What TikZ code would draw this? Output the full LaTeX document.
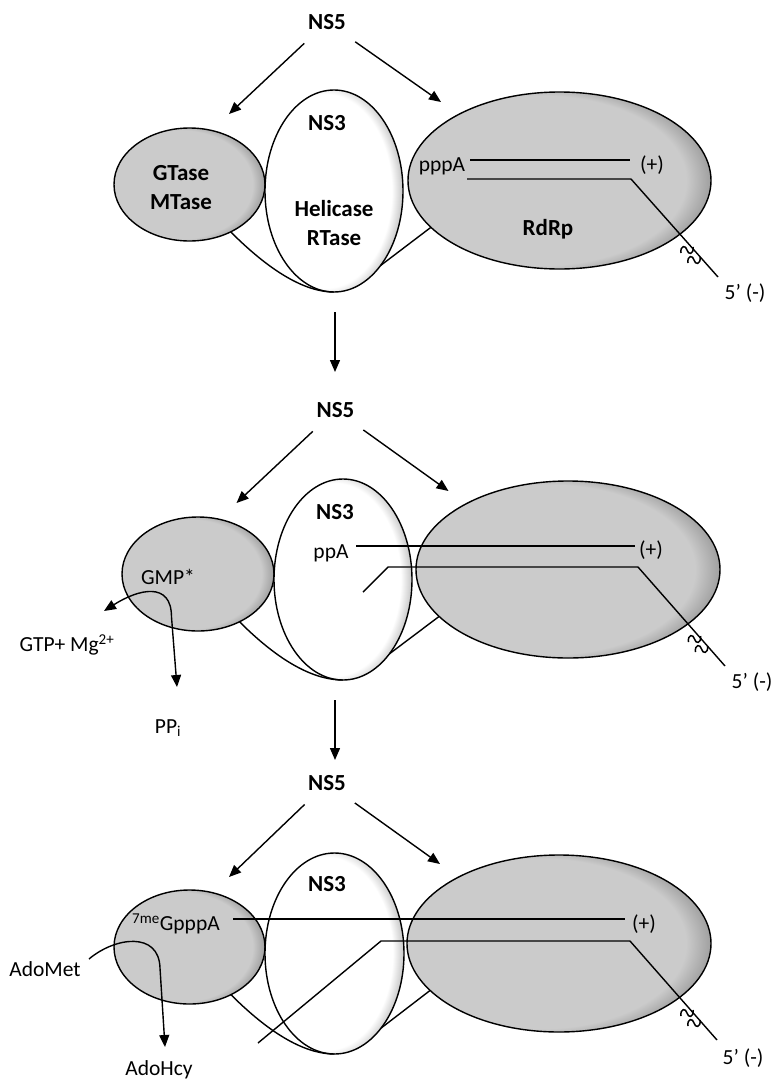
\documentclass[tikz,border=0pt]{standalone}
\usepackage{fontspec}
\setmainfont{Carlito}
\usetikzlibrary{arrows.meta,shapes.geometric}
\definecolor{capfill}{HTML}{CBCBCB}
\definecolor{caprim}{HTML}{7E7E7E}
\definecolor{nsfill}{HTML}{FFFFFF}
\definecolor{nsrim}{HTML}{9A9A9A}
\pgfdeclareradialshading{graycap}{\pgfpoint{-6bp}{0bp}}{color(0bp)=(capfill); color(24bp)=(capfill); color(30.5bp)=(caprim); color(50bp)=(caprim)}
\pgfdeclareradialshading{whitecap}{\pgfpoint{-6bp}{0bp}}{color(0bp)=(nsfill); color(24bp)=(nsfill); color(30.5bp)=(nsrim); color(50bp)=(nsrim)}
\tikzset{wig/.pic={\draw[line width=1.5pt] (-6,3) .. controls (-7,-5) and (-1,-5) .. (0,0) .. controls (1,5) and (7,5) .. (6,-3);}}
\begin{document}
\begin{tikzpicture}[x=1pt,y=-1pt,line width=1.4pt,
    arr/.style={-{Triangle[length=12pt,width=10pt]}},
    arrtwo/.style={{Triangle[length=12pt,width=10pt]}-{Triangle[length=12pt,width=10pt]}},
    grayblob/.style={ellipse,draw,inner sep=0pt,outer sep=0pt,shade,shading=graycap},
    whiteblob/.style={ellipse,draw,inner sep=0pt,outer sep=0pt,shade,shading=whitecap},
    lbl/.style={font=\fontsize{21.5}{25}\selectfont,inner sep=0pt},
    bld/.style={font=\fontsize{23}{29}\selectfont\bfseries,inner sep=0pt,align=center}]
        \useasboundingbox (0,0) rectangle (777,1082);
        % top: NS5 loaded on the template
        \begin{scope}
        \node[grayblob,minimum width=151pt,minimum height=113pt] (gtA) at (189.5,184.5) {};
        \node[whiteblob,minimum width=138pt,minimum height=202pt] (hA) at (334,191) {};
        \node[grayblob,minimum width=303pt,minimum height=177pt] (rdA) at (559.5,180.5) {};
        \draw (gtA.-49) .. controls +(45,45) and +(-25,0) .. (hA.south);
        \draw (rdA.200) -- (hA.-58);
        \node[bld] (ns5A) at (327,22) {NS5};
        \coordinate (tipAl) at (229,114);
        \coordinate (tipAr) at (441,102);
        \draw[arr,shorten <=19pt] (ns5A) -- (tipAl);
        \draw[arr,shorten <=20pt] (ns5A) -- (tipAr);
        \node[bld] (ns3A) at (327,123) {NS3};
        \node[bld] (gtxA) at (181,188) {GTase\\MTase};
        \node[bld] (helA) at (334,223.5) {Helicase\\RTase};
        \node[bld] (rdtA) at (548,229) {RdRp};
        \node[lbl] (ppaA) at (442,166) {pppA};
        \node[lbl] (plusA) at (652,165) {(+)};
        \node[lbl] (endA) at (745,293) {5’ (-)};
        \coordinate (sA1) at (470,160);
        \coordinate (sA2) at (630,160);
        \coordinate (sA3) at (467,179);
        \coordinate (sA4) at (631,179);
        \coordinate (sA5) at (718,277);
        \draw (sA1) -- (sA2);
        \draw (sA3) -- (sA4) -- (sA5);
        \pic at (687,250) {wig};
        \pic at (694,260) {wig};
        \end{scope}
        % middle: GMP bound
        \begin{scope}[shift={(8.5,389)}]
        \node[grayblob,minimum width=152pt,minimum height=114pt] (gtB) at (189.5,185) {};
        \node[whiteblob,minimum width=138pt,minimum height=201pt] (hB) at (334.5,190.5) {};
        \node[grayblob,minimum width=304pt,minimum height=177pt] (rdB) at (559.5,180.5) {};
        \draw (gtB.-49) .. controls +(45,45) and +(-25,0) .. (hB.south);
        \draw (rdB.200) -- (hB.-58);
        \node[bld] (ns5B) at (327,21) {NS5};
        \coordinate (tipBl) at (228,114);
        \coordinate (tipBr) at (440,102);
        \draw[arr,shorten <=19pt] (ns5B) -- (tipBl);
        \draw[arr,shorten <=20pt] (ns5B) -- (tipBr);
        \node[bld] (ns3B) at (326.5,123) {NS3};
        \node[lbl] (gmpB) at (159.5,188) {GMP*};
        \node[lbl] (gtpB) at (58.5,256) {GTP+ Mg\textsuperscript{2+}};
        \node[lbl] (ppiB) at (159.5,339) {PP\textsubscript{i}};
        \coordinate (inB) at (95.5,222);
        \coordinate (outB) at (168.5,298);
        \draw[arrtwo] (inB) .. controls (130,200) and (163,192) .. (163,228) -- (outB);
        \node[lbl] (ppaB) at (322.5,164) {ppA};
        \node[lbl] (plusB) at (642.5,161) {(+)};
        \node[lbl] (endB) at (743.5,293) {5’ (-)};
        \coordinate (sB1) at (347.5,157);
        \coordinate (sB2) at (626.5,157);
        \coordinate (sB3) at (354.5,203);
        \coordinate (sB4) at (379.5,178);
        \coordinate (sB5) at (629.5,178);
        \coordinate (sB6) at (716.5,277);
        \draw (sB1) -- (sB2);
        \draw (sB3) -- (sB4) -- (sB5) -- (sB6);
        \pic at (686,250) {wig};
        \pic at (693,260) {wig};
        \end{scope}
        % bottom: methylated cap
        \begin{scope}[shift={(0,763)}]
        \node[grayblob,minimum width=151pt,minimum height=114pt] (gtC) at (189.5,184) {};
        \node[whiteblob,minimum width=139pt,minimum height=201pt] (hC) at (334.5,190.5) {};
        \node[grayblob,minimum width=304pt,minimum height=177pt] (rdC) at (559,180.5) {};
        \draw (gtC.-49) .. controls +(45,45) and +(-25,0) .. (hC.south);
        \draw (rdC.200) -- (hC.-58);
        \node[bld] (ns5C) at (327,20) {NS5};
        \coordinate (tipCl) at (229,114);
        \coordinate (tipCr) at (440,101);
        \draw[arr,shorten <=19pt] (ns5C) -- (tipCl);
        \draw[arr,shorten <=20pt] (ns5C) -- (tipCr);
        \node[bld] (ns3C) at (327,121) {NS3};
        \node[lbl] (gpppC) at (176,161) {\textsuperscript{7me}GpppA};
        \node[lbl] (plusC) at (644,161) {(+)};
        \node[lbl] (endC) at (743,295) {5’ (-)};
        \node[lbl] (adometC) at (45,206) {AdoMet};
        \node[lbl] (adohcyC) at (159,307) {AdoHcy};
        \coordinate (inC) at (89,196);
        \coordinate (outC) at (165,284);
        \draw[arr] (inC) .. controls (115,174) and (159,168) .. (160,205) -- (outC);
        \coordinate (sC1) at (233,156);
        \coordinate (sC2) at (625,156);
        \coordinate (sC3) at (258,280);
        \coordinate (sC4) at (381,178);
        \coordinate (sC5) at (630,178);
        \coordinate (sC6) at (717,277);
        \draw (sC1) -- (sC2);
        \draw (sC3) -- (sC4) -- (sC5) -- (sC6);
        \pic at (687,250) {wig};
        \pic at (694,260) {wig};
        \end{scope}
        % steps
        \coordinate (dnA1) at (335,312);
        \coordinate (dnA2) at (335,372);
        \coordinate (dnB1) at (335,700);
        \coordinate (dnB2) at (335,760);
        \draw[arr] (dnA1) -- (dnA2);
        \draw[arr] (dnB1) -- (dnB2);
\end{tikzpicture}
\end{document}
